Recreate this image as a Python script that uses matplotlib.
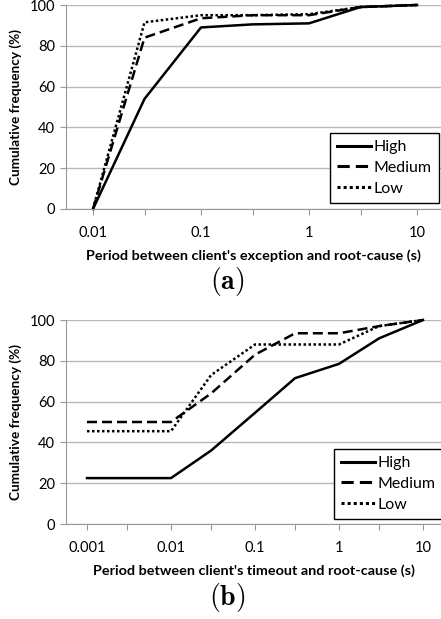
import matplotlib
matplotlib.use('Agg')
import matplotlib.pyplot as plt
import numpy as np

# Данные (категории по полудекадам, подписи только на декадах)
x_a = [0.01, 0.03, 0.1, 0.3, 1, 3, 10]
high_a = [0, 54, 89, 90.5, 91, 99, 100]
medium_a = [0, 84, 93.5, 95, 95, 99, 100]
low_a = [0, 91.5, 95, 95, 95.5, 99, 100]

x_b = [0.001, 0.003, 0.01, 0.03, 0.1, 0.3, 1, 3, 10]
high_b = [22.5, 22.5, 22.5, 36, 54.5, 71.5, 78.5, 91, 100]
medium_b = [50, 50, 50, 64, 83, 93.5, 93.5, 97, 100]
low_b = [45.5, 45.5, 45.5, 73, 88, 88, 88, 97, 100]

series = ['High', 'Medium', 'Low']
styles = {'High': '-', 'Medium': (0, (4, 2)), 'Low': (0, (1, 1))}

xlabel_a = "Period between client's exception and root-cause (s)"
xlabel_b = "Period between client's timeout and root-cause (s)"
ylabel = 'Cumulative frequency (%)'

plt.rcParams['font.family'] = ['Lato', 'DejaVu Sans']
plt.rcParams['mathtext.fontset'] = 'cm'

W, H = 441, 619
fig = plt.figure(figsize=(W / 100, H / 100), dpi=100)


def px_axes(left, top, right, bottom):
    return fig.add_axes([left / W, 1 - bottom / H, (right - left) / W, (bottom - top) / H])


def draw(ax, x, ys, lo, per_decade, xlabel, legend_box):
    for name, y in zip(series, ys):
        ax.plot(x, y, color='black', linestyle=styles[name], linewidth=1.8, label=name,
                clip_on=False)
    ax.set_xscale('log')
    width_px = ax.get_position().width * W
    ax.set_xlim(10 ** lo, 10 ** (lo + width_px / per_decade))
    ax.set_ylim(0, 100)
    ax.set_xticks(x)
    ax.set_xticklabels([('%g' % v) if np.isclose(np.log10(v), round(np.log10(v))) else ''
                        for v in x])
    ax.xaxis.set_minor_locator(matplotlib.ticker.NullLocator())
    ax.set_yticks(range(0, 101, 20))
    ax.tick_params(axis='x', direction='out', length=4, color='#999999', labelsize=10.5, pad=8)
    ax.tick_params(axis='y', direction='out', length=4, color='#999999', labelsize=10.5, pad=4)
    ax.grid(axis='y', color='#b8b8b8', linewidth=1)
    ax.set_axisbelow(True)
    for s in ['top', 'right']:
        ax.spines[s].set_visible(False)
    for s in ['left', 'bottom']:
        ax.spines[s].set_color('#999999')
    ax.set_xlabel(xlabel, fontsize=10.4, fontweight='bold', labelpad=7)
    ax.set_ylabel(ylabel, fontsize=9.8, fontweight='bold', labelpad=5)
    leg = ax.legend(loc='upper left', bbox_to_anchor=(legend_box[0] / W, 1 - legend_box[1] / H),
                    bbox_transform=fig.transFigure, frameon=True, fancybox=False,
                    edgecolor='black', framealpha=1, fontsize=11.5, handlelength=2.1,
                    handletextpad=0.2, borderpad=0.45, labelspacing=0.4, borderaxespad=0)
    leg.get_frame().set_linewidth(1.0)
    for line in leg.get_lines():
        line.set_linewidth(2.2)


ax_a = px_axes(66, 5, 441, 209)
draw(ax_a, x_a, [high_a, medium_a, low_a], -2.25, 108, xlabel_a, (330, 133))
fig.text(227 / W, 1 - 282 / H, r'$\mathbf{(a)}$', fontsize=20, ha='center', va='center')

ax_b = px_axes(66, 320, 441, 524)
draw(ax_b, x_b, [high_b, medium_b, low_b], -3.25, 84, xlabel_b, (334, 449))
fig.text(227 / W, 1 - 598 / H, r'$\mathbf{(b)}$', fontsize=20, ha='center', va='center')

fig.savefig('out.png', dpi=100)
